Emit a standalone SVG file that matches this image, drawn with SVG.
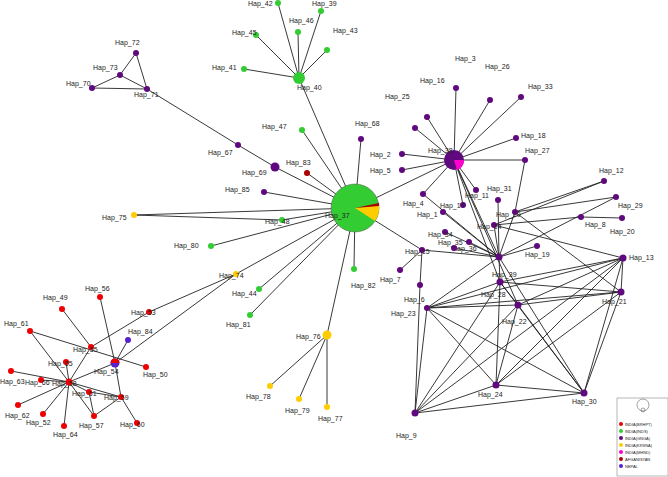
<svg xmlns="http://www.w3.org/2000/svg" width="668" height="477" viewBox="0 0 668 477">
<style>
.e line{stroke:#222;stroke-width:0.9}
text{font-family:"Liberation Sans",Arial,sans-serif;font-size:7px;fill:#222}
.r{fill:#e00}.g{fill:#3c3}.p{fill:#60087e}.y{fill:#fc0}.m{fill:#f0c}.d{fill:#a00}.b{fill:#52c}
.lg text{font-size:4px}
</style>
<rect width="668" height="477" fill="#fff"/>
<g class="e">
<!-- center -->
<line x1="355" y1="208" x2="299" y2="78"/><line x1="355" y1="208" x2="302" y2="130"/><line x1="355" y1="208" x2="307" y2="173"/>
<line x1="355" y1="208" x2="275" y2="167"/><line x1="355" y1="208" x2="264" y2="192"/><line x1="355" y1="208" x2="361" y2="139"/>
<line x1="355" y1="208" x2="134" y2="215"/><line x1="134" y1="215" x2="282" y2="220"/><line x1="355" y1="208" x2="282" y2="220"/>
<line x1="355" y1="208" x2="211" y2="246"/><line x1="355" y1="208" x2="236" y2="274"/><line x1="355" y1="208" x2="259" y2="289"/>
<line x1="355" y1="208" x2="250" y2="315"/><line x1="355" y1="208" x2="354" y2="269"/><line x1="355" y1="208" x2="327" y2="335"/>
<line x1="355" y1="208" x2="454" y2="160"/><line x1="355" y1="208" x2="422" y2="250"/>
<line x1="327" y1="335" x2="270" y2="386"/><line x1="327" y1="335" x2="299" y2="399"/><line x1="327" y1="335" x2="327" y2="407"/>
<!-- hap40 -->
<line x1="299" y1="78" x2="278" y2="3"/><line x1="299" y1="78" x2="321" y2="11"/><line x1="299" y1="78" x2="298" y2="32"/>
<line x1="299" y1="78" x2="256" y2="35"/><line x1="299" y1="78" x2="327" y2="50"/><line x1="299" y1="78" x2="244" y2="69"/>
<!-- top-left -->
<line x1="275" y1="167" x2="238" y2="145"/><line x1="238" y1="145" x2="147" y2="89"/>
<line x1="92" y1="88" x2="147" y2="89"/><line x1="92" y1="88" x2="120" y2="75"/><line x1="120" y1="75" x2="147" y2="89"/>
<line x1="120" y1="75" x2="136" y2="53"/><line x1="136" y1="53" x2="147" y2="89"/>
<!-- left cluster -->
<line x1="236" y1="274" x2="149" y2="312"/><line x1="236" y1="274" x2="115" y2="363"/><line x1="149" y1="312" x2="91" y2="347"/>
<line x1="62" y1="309" x2="91" y2="347"/><line x1="100" y1="297" x2="115" y2="363"/><line x1="115" y1="363" x2="121" y2="397"/>
<line x1="121" y1="397" x2="137" y2="423"/><line x1="115" y1="363" x2="128" y2="340"/><line x1="115" y1="363" x2="69" y2="382"/>
<line x1="91" y1="347" x2="69" y2="382"/><line x1="30" y1="331" x2="69" y2="382"/><line x1="30" y1="331" x2="146" y2="367"/>
<line x1="11" y1="371" x2="69" y2="382"/><line x1="41" y1="380" x2="69" y2="382"/><line x1="66" y1="362" x2="69" y2="382"/>
<line x1="18" y1="405" x2="69" y2="382"/><line x1="43" y1="414" x2="69" y2="382"/><line x1="64" y1="426" x2="69" y2="382"/>
<line x1="89" y1="392" x2="69" y2="382"/><line x1="89" y1="392" x2="94" y2="416"/><line x1="69" y1="382" x2="94" y2="416"/>
<line x1="89" y1="392" x2="121" y2="397"/><line x1="69" y1="382" x2="121" y2="397"/><line x1="94" y1="416" x2="121" y2="397"/>
<!-- hap38 -->
<line x1="454" y1="160" x2="456" y2="88"/><line x1="454" y1="160" x2="490" y2="100"/><line x1="454" y1="160" x2="427" y2="117"/>
<line x1="454" y1="160" x2="415" y2="128"/><line x1="454" y1="160" x2="521" y2="97"/><line x1="454" y1="160" x2="402" y2="154"/>
<line x1="454" y1="160" x2="402" y2="170"/><line x1="454" y1="160" x2="516" y2="138"/><line x1="454" y1="160" x2="525" y2="160"/>
<line x1="454" y1="160" x2="423" y2="194"/><line x1="454" y1="160" x2="476" y2="190"/><line x1="454" y1="160" x2="499" y2="257"/>
<line x1="454" y1="160" x2="500" y2="282"/><line x1="454" y1="160" x2="463" y2="205"/><line x1="454" y1="160" x2="518" y2="305"/>
<!-- mesh -->
<line x1="423" y1="194" x2="499" y2="257"/><line x1="443" y1="212" x2="499" y2="257"/><line x1="445" y1="232" x2="499" y2="257"/>
<line x1="469" y1="242" x2="499" y2="257"/><line x1="454" y1="248" x2="499" y2="257"/><line x1="422" y1="250" x2="499" y2="257"/>
<line x1="422" y1="250" x2="400" y2="270"/><line x1="422" y1="250" x2="420" y2="285"/><line x1="420" y1="285" x2="415" y2="413"/>
<line x1="498" y1="200" x2="499" y2="257"/><line x1="515" y1="212" x2="499" y2="257"/><line x1="494" y1="225" x2="499" y2="257"/>
<line x1="537" y1="246" x2="499" y2="257"/><line x1="515" y1="212" x2="604" y2="181"/><line x1="515" y1="212" x2="616" y2="197"/>
<line x1="515" y1="212" x2="525" y2="160"/><line x1="494" y1="225" x2="581" y2="217"/><line x1="494" y1="225" x2="604" y2="181"/>
<line x1="581" y1="217" x2="622" y2="218"/><line x1="494" y1="225" x2="623" y2="258"/><line x1="515" y1="212" x2="621" y2="292"/>
<line x1="499" y1="257" x2="500" y2="282"/><line x1="499" y1="257" x2="427" y2="308"/><line x1="499" y1="257" x2="584" y2="393"/>
<line x1="499" y1="257" x2="616" y2="197"/>
<line x1="427" y1="308" x2="623" y2="258"/><line x1="427" y1="308" x2="621" y2="292"/><line x1="427" y1="308" x2="518" y2="305"/>
<line x1="427" y1="308" x2="500" y2="282"/><line x1="427" y1="308" x2="496" y2="385"/><line x1="427" y1="308" x2="584" y2="393"/>
<line x1="427" y1="308" x2="415" y2="413"/><line x1="415" y1="413" x2="496" y2="385"/><line x1="415" y1="413" x2="584" y2="393"/>
<line x1="415" y1="413" x2="500" y2="282"/><line x1="415" y1="413" x2="518" y2="305"/><line x1="415" y1="413" x2="623" y2="258"/>
<line x1="496" y1="385" x2="584" y2="393"/><line x1="496" y1="385" x2="500" y2="282"/><line x1="496" y1="385" x2="518" y2="305"/>
<line x1="496" y1="385" x2="623" y2="258"/><line x1="496" y1="385" x2="621" y2="292"/><line x1="584" y1="393" x2="621" y2="292"/>
<line x1="584" y1="393" x2="623" y2="258"/><line x1="584" y1="393" x2="500" y2="282"/><line x1="584" y1="393" x2="518" y2="305"/>
<line x1="623" y1="258" x2="621" y2="292"/><line x1="623" y1="258" x2="500" y2="282"/><line x1="621" y1="292" x2="500" y2="282"/>
<line x1="623" y1="258" x2="518" y2="305"/><line x1="621" y1="292" x2="518" y2="305"/><line x1="500" y1="282" x2="518" y2="305"/>
</g>
<g id="center"><circle cx="355" cy="208" r="24" class="g" stroke="#555" stroke-width="0.5"/>
<path d="M355,208 L379,205 A24,24 0 0 1 375,221 Z" class="y"/><path d="M355,208 L379,203 A24,24 0 0 1 379,206 Z" class="d"/>
<text x="325" y="218">Hap_37</text></g>
<g id="hap38"><circle cx="454" cy="160" r="10" class="p"/><path d="M454,160 L464,160 A10,10 0 0 1 457,170 Z" class="m"/><text x="428" y="153">Hap_38</text></g>
<g id="nodes">
<circle cx="299" cy="78" r="6" class="g"/><text x="297" y="90">Hap_40</text>
<circle cx="278" cy="3" r="3" class="g"/><text x="248" y="6">Hap_42</text>
<circle cx="321" cy="11" r="3" class="g"/><text x="312" y="6">Hap_39</text>
<circle cx="298" cy="32" r="3" class="g"/><text x="289" y="23">Hap_46</text>
<circle cx="256" cy="35" r="3" class="g"/><text x="232" y="35">Hap_45</text>
<circle cx="327" cy="50" r="3" class="g"/><text x="333" y="33">Hap_43</text>
<circle cx="244" cy="69" r="3" class="g"/><text x="212" y="70">Hap_41</text>
<circle cx="136" cy="53" r="3" class="p"/><text x="115" y="45">Hap_72</text>
<circle cx="120" cy="75" r="3" class="p"/><text x="93" y="70">Hap_73</text>
<circle cx="92" cy="88" r="3" class="p"/><text x="66" y="86">Hap_70</text>
<circle cx="147" cy="89" r="3" class="p"/><text x="134" y="97">Hap_71</text>
<circle cx="238" cy="145" r="3" class="p"/><text x="208" y="155">Hap_67</text>
<circle cx="275" cy="167" r="4.5" class="p"/><text x="242" y="175">Hap_69</text>
<circle cx="302" cy="130" r="3" class="g"/><text x="262" y="129">Hap_47</text>
<circle cx="307" cy="173" r="3" class="d"/><text x="286" y="165">Hap_83</text>
<circle cx="264" cy="192" r="3" class="p"/><text x="225" y="192">Hap_85</text>
<circle cx="361" cy="139" r="3" class="p"/><text x="355" y="126">Hap_68</text>
<circle cx="134" cy="215" r="3" class="y"/><text x="102" y="220">Hap_75</text>
<circle cx="282" cy="220" r="3" class="g"/><text x="265" y="224">Hap_48</text>
<circle cx="211" cy="246" r="3" class="g"/><text x="174" y="248">Hap_80</text>
<circle cx="236" cy="274" r="3" class="y"/><text x="219" y="278">Hap_74</text>
<circle cx="259" cy="289" r="3" class="g"/><text x="232" y="296">Hap_44</text>
<circle cx="250" cy="315" r="3" class="g"/><text x="226" y="327">Hap_81</text>
<circle cx="354" cy="269" r="3" class="g"/><text x="351" y="288">Hap_82</text>
<circle cx="327" cy="335" r="4.5" class="y"/><text x="296" y="339">Hap_76</text>
<circle cx="270" cy="386" r="3" class="y"/><text x="246" y="399">Hap_78</text>
<circle cx="299" cy="399" r="3" class="y"/><text x="285" y="413">Hap_79</text>
<circle cx="327" cy="407" r="3" class="y"/><text x="318" y="421">Hap_77</text>
<circle cx="100" cy="297" r="3" class="r"/><text x="85" y="291">Hap_56</text>
<circle cx="62" cy="309" r="3" class="r"/><text x="43" y="300">Hap_49</text>
<circle cx="30" cy="331" r="3" class="r"/><text x="4" y="326">Hap_61</text>
<circle cx="149" cy="312" r="3" class="r"/><text x="131" y="315">Hap_53</text>
<circle cx="128" cy="340" r="3" class="b"/><text x="128" y="334">Hap_84</text>
<circle cx="115" cy="363" r="4.5" class="b"/><path d="M110.5,363 A4.5,4.5 0 0 1 119.5,363 Z" class="r"/><text x="94" y="374">Hap_54</text>
<circle cx="146" cy="367" r="3" class="r"/><text x="143" y="377">Hap_50</text>
<circle cx="91" cy="347" r="3" class="r"/><text x="73" y="352">Hap_55</text>
<circle cx="66" cy="362" r="3" class="r"/><text x="48" y="366">Hap_65</text>
<circle cx="11" cy="371" r="3" class="r"/><text x="0" y="384">Hap_63</text>
<circle cx="41" cy="380" r="3" class="r"/><text x="25" y="385">Hap_66</text>
<circle cx="69" cy="382" r="3.5" class="r"/><text x="52" y="386">Hap_58</text>
<circle cx="89" cy="392" r="3" class="r"/><text x="72" y="396">Hap_51</text>
<circle cx="121" cy="397" r="3" class="r"/><text x="104" y="400">Hap_59</text>
<circle cx="18" cy="405" r="3" class="r"/><text x="5" y="418">Hap_62</text>
<circle cx="43" cy="414" r="3" class="r"/><text x="26" y="425">Hap_52</text>
<circle cx="94" cy="416" r="3" class="r"/><text x="79" y="428">Hap_57</text>
<circle cx="64" cy="426" r="3" class="r"/><text x="53" y="437">Hap_64</text>
<circle cx="137" cy="423" r="3" class="r"/><text x="120" y="427">Hap_60</text>
<circle cx="456" cy="88" r="3" class="p"/><text x="455" y="61">Hap_3</text>
<circle cx="490" cy="100" r="3" class="p"/><text x="485" y="69">Hap_26</text>
<circle cx="427" cy="117" r="3" class="p"/><text x="420" y="83">Hap_16</text>
<circle cx="415" cy="128" r="3" class="p"/><text x="385" y="99">Hap_25</text>
<circle cx="521" cy="97" r="3" class="p"/><text x="528" y="89">Hap_33</text>
<circle cx="402" cy="154" r="3" class="p"/><text x="370" y="157">Hap_2</text>
<circle cx="402" cy="170" r="3" class="p"/><text x="370" y="173">Hap_5</text>
<circle cx="516" cy="138" r="3" class="p"/><text x="521" y="138">Hap_18</text>
<circle cx="525" cy="160" r="3" class="p"/><text x="525" y="153">Hap_27</text>
<circle cx="604" cy="181" r="3" class="p"/><text x="599" y="173">Hap_12</text>
<circle cx="616" cy="197" r="3" class="p"/><text x="618" y="208">Hap_29</text>
<circle cx="622" cy="218" r="3" class="p"/><text x="610" y="234">Hap_20</text>
<circle cx="581" cy="217" r="3" class="p"/><text x="585" y="227">Hap_8</text>
<circle cx="498" cy="200" r="3" class="p"/><text x="487" y="191">Hap_31</text>
<circle cx="476" cy="190" r="3" class="p"/><text x="465" y="198">Hap_11</text>
<circle cx="423" cy="194" r="3" class="p"/><text x="403" y="206">Hap_4</text>
<circle cx="463" cy="205" r="3" class="p"/><text x="440" y="208">Hap_17</text>
<circle cx="443" cy="212" r="3" class="p"/><text x="417" y="217">Hap_1</text>
<circle cx="515" cy="212" r="3" class="p"/><text x="496" y="217">Hap_10</text>
<circle cx="494" cy="225" r="3" class="p"/><text x="477" y="229">Hap_14</text>
<circle cx="445" cy="232" r="3" class="p"/><text x="428" y="237">Hap_34</text>
<circle cx="469" cy="242" r="3" class="p"/><text x="452" y="251">Hap_36</text>
<circle cx="454" cy="248" r="3" class="p"/><text x="438" y="245">Hap_35</text>
<circle cx="422" cy="250" r="3" class="p"/><text x="405" y="254">Hap_15</text>
<circle cx="537" cy="246" r="3" class="p"/><text x="525" y="257">Hap_19</text>
<circle cx="400" cy="270" r="3" class="p"/><text x="380" y="282">Hap_7</text>
<circle cx="420" cy="285" r="3" class="p"/><text x="404" y="302">Hap_6</text>
<circle cx="427" cy="308" r="3" class="p"/><text x="391" y="316">Hap_23</text>
<circle cx="499" cy="257" r="3.5" class="p"/><text x="492" y="277">Hap_39</text>
<circle cx="500" cy="282" r="3.5" class="p"/><text x="481" y="297">Hap_28</text>
<circle cx="518" cy="305" r="3.5" class="p"/><text x="502" y="324">Hap_22</text>
<circle cx="623" cy="258" r="3.5" class="p"/><text x="629" y="260">Hap_13</text>
<circle cx="621" cy="292" r="3.5" class="p"/><text x="602" y="304">Hap_21</text>
<circle cx="496" cy="385" r="3.5" class="p"/><text x="478" y="397">Hap_24</text>
<circle cx="584" cy="393" r="3.5" class="p"/><text x="572" y="404">Hap_30</text>
<circle cx="415" cy="413" r="3.5" class="p"/><text x="396" y="438">Hap_9</text>
</g>
<g class="lg" id="legend">
<rect x="617" y="398" width="51" height="78" fill="#fff" stroke="#888" stroke-width="0.6"/>
<circle cx="643" cy="405" r="6" fill="none" stroke="#444" stroke-width="0.5"/><circle cx="643" cy="410" r="2" fill="none" stroke="#444" stroke-width="0.5"/>
<circle cx="621" cy="424" r="2" class="r"/><text x="625" y="425.5">INDIA(BRHPT)</text>
<circle cx="621" cy="431" r="2" class="g"/><text x="625" y="432.5">INDIA(INDS)</text>
<circle cx="621" cy="438" r="2" class="p"/><text x="625" y="439.5">INDIA(GNGA)</text>
<circle cx="621" cy="445" r="2" class="y"/><text x="625" y="446.5">INDIA(KRSNA)</text>
<circle cx="621" cy="452" r="2" class="m"/><text x="625" y="453.5">INDIA(MHND)</text>
<circle cx="621" cy="459" r="2" class="d"/><text x="625" y="460.5">AFGANISTAN</text>
<circle cx="621" cy="466" r="2" class="b"/><text x="625" y="467.5">NEPAL</text>
</g>
</svg>
